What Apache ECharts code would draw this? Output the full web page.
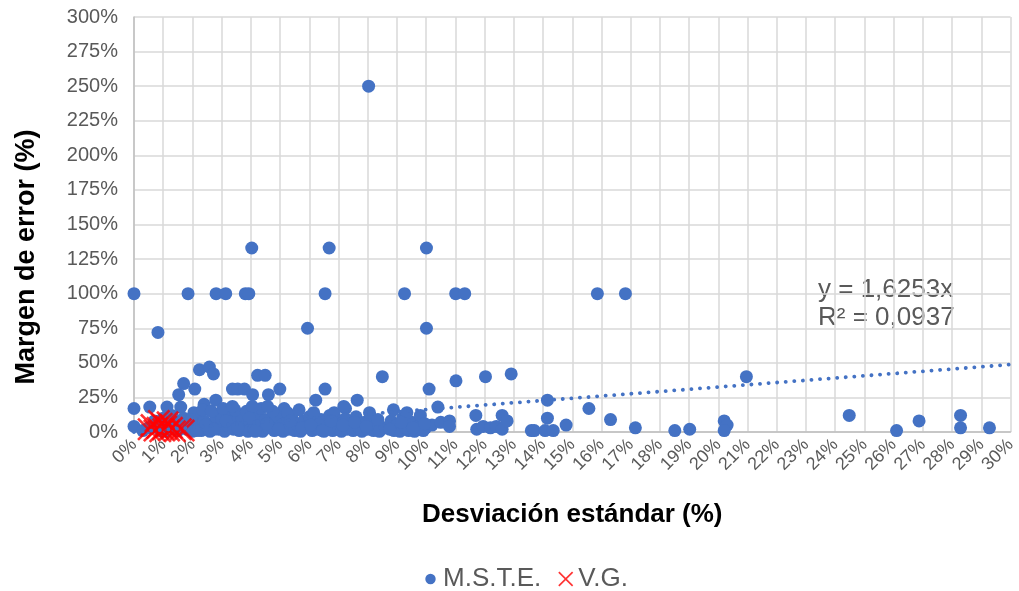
<!DOCTYPE html>
<html><head><meta charset="utf-8">
<script src="https://cdn.jsdelivr.net/npm/echarts@6/dist/echarts.min.js"></script>
<style>html,body{margin:0;padding:0;background:#fff}#c{width:1019px;height:591px}</style>
</head><body><div id="c"></div>
<script>
// M.S.T.E. points: standard deviation (%) and error margin (%)
const msteX = [0,0.82,1.85,2.81,3.14,3.81,3.93,4.03,5.94,6.54,6.68,8.03,9.26,10.01,10.01,11.01,11.32,15.86,16.82,
 0,0,0.54,1.13,1.53,1.70,2.08,2.24,2.58,2.72,1.6,2.4,2.8,3.37,3.55,3.78,4.06,4.23,4.49,4.6,4.99,5.14,6.22,6.54,7.24,7.64,8.5,10.1,9.98,11.02,12.03,12.91,14.15,14.15,15.57,16.31,17.16,18.51,19.02,10.4,10.2,10.5,10.8,10.8,11.7,11.73,11.95,12.2,12.4,12.6,12.6,12.77,13.6,13.7,14.07,14.35,14.79,20.96,20.2,20.3,20.2,24.48,26.1,26.87,28.29,28.29,29.28,
 1.5,1.6,1.7,1.8,1.9,2.0,2.1,2.2,2.3,2.4,2.5,2.6,2.7,2.8,2.9,3.0,3.1,3.2,3.3,3.4,3.5,3.6,3.7,3.8,3.9,4.0,4.1,4.2,4.3,4.4,4.5,4.6,4.7,4.8,4.9,5.0,5.1,5.2,5.3,5.4,5.5,5.6,5.7,5.8,5.9,6.0,6.1,6.2,6.3,6.4,6.5,6.6,6.7,6.8,6.9,7.0,7.1,7.2,7.3,7.4,7.5,7.6,7.7,7.8,7.9,8.0,8.1,8.2,8.3,8.4,8.6,8.8,8.9,9.0,9.1,9.2,9.3,9.4,9.5,9.6,9.7,9.8,9.9,
 2.05,2.35,2.65,3.05,3.45,3.85,4.35,4.75,5.25,5.65,6.15,6.85,8.06,8.88,9.34,3.37,4.05,4.57,7.18,
 0.3,0.5,0.7,0.9,1.0,1.2,1.3,1.4,1.1,
 1.55,1.95,2.15,2.45,2.75,3.15,3.55,3.95,4.15,4.55,4.95,5.35,5.75,6.05,6.45,6.75,7.15,7.55,7.95,8.35,8.75,9.15,9.55,9.95];
const msteY = [100,72,100,100,100,100,100,133,75,100,133,250,100,133,75,100,100,100,100,
 17,4,18,18,27,35,31,45,47,42,18,20,23,31,31,31,27,41,41,27,31,17,23,31,17,23,40,31,3,37,40,42,23,10,17,9,3,1,2,18,5,7,8,4,12,2,4,3,4,12,2,8,1,1,1,1,5,40,8,5,1,12,1,8,12,3,3,
 1,5,10,2,7,0.5,4,12,1,8,3,0.5,6,11,2,9,0.5,5,13,2,7,1,10,4,0.5,8,2,12,5,0.5,9,3,6,1,11,4,0.5,7,2,10,1,5,0.5,8,3,11,1,6,2,9,0.5,4,12,1,7,3,0.5,9,2,5,1,11,3,0.5,7,2,10,1,5,0.5,3,8,1,5,0.5,10,3,1,7,0.5,4,12,1,
 14,16,15,17,16,15,17,15,14,16,14,14,14,16,14,18.5,18.5,18.5,18.5,
 1,3,8,1,10,3,12,6,0.5,
 3,9,1,5,2,8,3,10,0.5,6,2,8,3,5,1,8,5,7,4,9,2,7,3,6];
// V.G. points
const vgX = [0.5,0.6,0.7,0.8,0.9,0.95,1.0,1.1,1.2,1.3,1.4,1.6,0.85,1.15,1.7];
const vgY = [2,5,1,3,0.5,6,2,4,1,3,0.5,2,8,7,1];
// Linear trend through origin
const trendSlope = 1.6253;
const trendR2 = '0,0937';
const xTicks = {min:0, max:30, step:1};
const yTicks = {min:0, max:300, step:25};

const blue = '#4472C4';
const grey = '#595959';
const font = 'Liberation Sans, Arial, sans-serif';
const xPath = 'path://M0,0.8L0.8,0L5,4.2L9.2,0L10,0.8L5.8,5L10,9.2L9.2,10L5,5.8L0.8,10L0,9.2L4.2,5Z';
const dotIcon = 'path://M0,0M15,15M2.3,7.5A5.2,5.2,0,1,1,12.7,7.5A5.2,5.2,0,1,1,2.3,7.5Z';

const mste = msteX.map((x,i)=>[x,msteY[i]]);
const vg = vgX.map((x,i)=>[x,vgY[i]]);
const trend = [[xTicks.min, 0],[xTicks.max, trendSlope*xTicks.max]];

const chart = echarts.init(document.getElementById('c'));
chart.setOption({
  animation:false,
  textStyle:{fontFamily:font},
  grid:{left:134,right:6,top:17,bottom:159},
  xAxis:{type:'value',min:xTicks.min,max:xTicks.max,interval:xTicks.step,
    name:'Desviación estándar (%)',nameLocation:'middle',nameGap:70,
    nameTextStyle:{fontSize:26,fontWeight:'bold',color:'#000',fontFamily:font},
    axisLine:{lineStyle:{color:'#BFBFBF',width:1.5}},axisTick:{show:false},
    axisLabel:{formatter:'{value}%',rotate:45,fontSize:18,color:grey,margin:10},
    splitLine:{show:true,lineStyle:{color:'#D9D9D9',width:1.5}}},
  yAxis:{type:'value',min:yTicks.min,max:yTicks.max,interval:yTicks.step,
    axisLine:{show:true,lineStyle:{color:'#BFBFBF',width:1.5}},axisTick:{show:false},
    axisLabel:{formatter:'{value}%',fontSize:20,color:grey,margin:16},
    splitLine:{show:true,lineStyle:{color:'#D9D9D9',width:1.5}}},
  legend:{top:561,left:418,itemGap:17,itemWidth:15,itemHeight:15,
    textStyle:{fontSize:26,color:grey,fontFamily:font},
    data:[{name:'M.S.T.E.',icon:dotIcon,itemStyle:{color:blue}},{name:'V.G.',icon:xPath,itemStyle:{color:'#FF0000'}}]},
  graphic:[
    {type:'text',x:27,y:257,rotation:Math.PI/2,style:{text:'Margen de error (%)',fontSize:27,fontWeight:'bold',fill:'#000',fontFamily:font,align:'center',verticalAlign:'middle'}},
    {type:'text',left:818,top:277,style:{text:'y = 1,6253x',fontSize:26,fill:grey,fontFamily:font}},
    {type:'text',left:818,top:305,style:{text:'R² = '+trendR2,fontSize:26,fill:grey,fontFamily:font}}
  ],
  series:[
    {name:'M.S.T.E.',type:'scatter',data:mste,symbol:'circle',symbolSize:13,itemStyle:{color:blue,opacity:1},z:3},
    {name:'V.G.',type:'scatter',data:vg,symbol:xPath,symbolSize:23,itemStyle:{color:'#FF0000'},z:4},
    {name:'trend',type:'line',data:trend,symbol:'none',silent:true,z:5,
      lineStyle:{color:blue,width:3.8,type:[0.1,8.5],cap:'round'}}
  ]
});
</script></body></html>
